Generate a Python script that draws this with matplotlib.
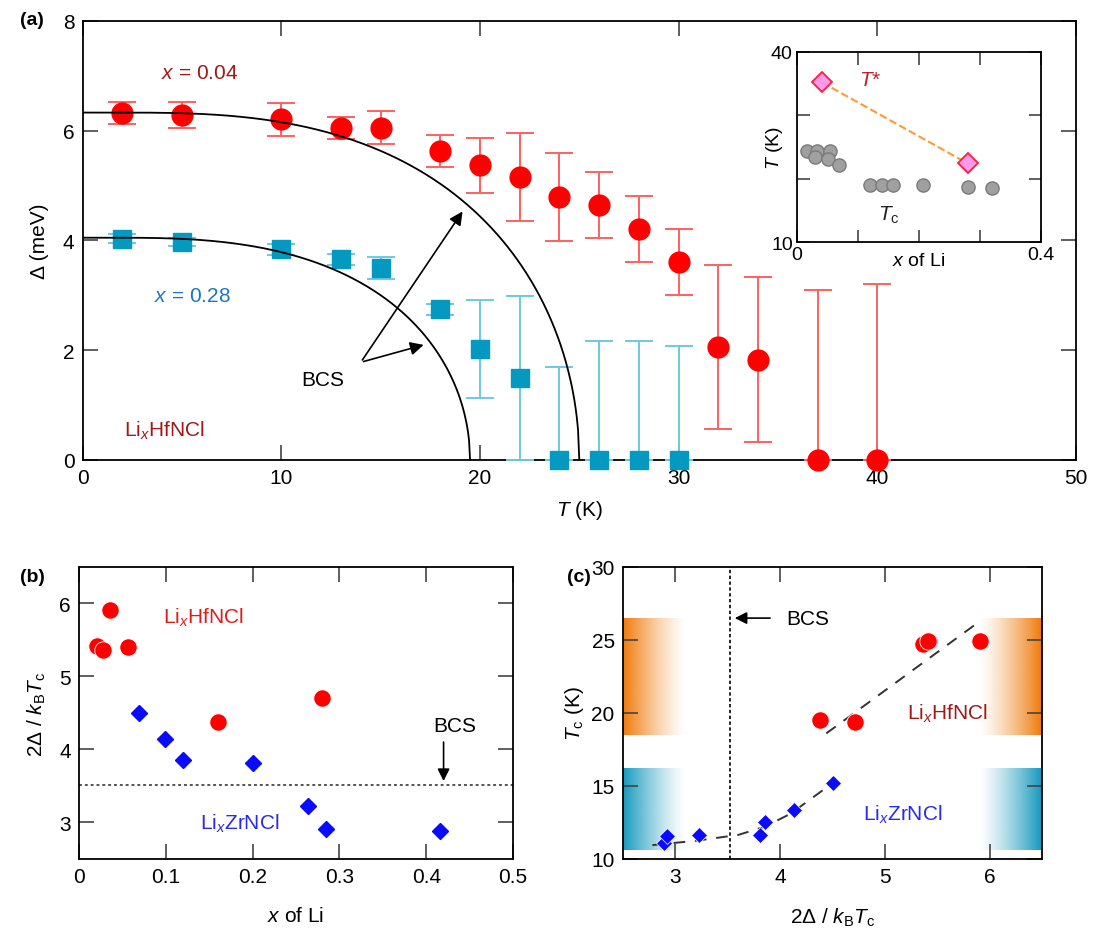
import numpy as np
import matplotlib
matplotlib.use('Agg')
import matplotlib.pyplot as plt

plt.rcParams['font.family'] = ['Liberation Sans', 'DejaVu Sans']
plt.rcParams['mathtext.fontset'] = 'custom'
plt.rcParams['mathtext.rm'] = 'Liberation Sans'
plt.rcParams['mathtext.it'] = 'Liberation Sans:italic'
plt.rcParams['font.size'] = 15

# ---- (a) gap vs temperature ----
T_hf = [2, 5, 10, 13, 15, 18, 20, 22, 24, 26, 28, 30, 32, 34, 37, 40]
D_hf = [6.32, 6.29, 6.21, 6.05, 6.05, 5.63, 5.37, 5.16, 4.79, 4.64, 4.21, 3.61, 2.06, 1.83, 0, 0]
Dlo_hf = [0.2, 0.24, 0.3, 0.2, 0.3, 0.3, 0.5, 0.8, 0.8, 0.6, 0.6, 0.6, 1.5, 1.5, 0, 0]
Dhi_hf = [0.2, 0.24, 0.3, 0.2, 0.3, 0.3, 0.5, 0.8, 0.8, 0.6, 0.6, 0.6, 1.5, 1.5, 3.1, 3.2]

T_zr = [2, 5, 10, 13, 15, 18, 20, 22, 24, 26, 28, 30]
D_zr = [4.03, 3.97, 3.84, 3.66, 3.5, 2.75, 2.02, 1.49, 0, 0, 0, 0]
Dlo_zr = [0.08, 0.08, 0.1, 0.1, 0.2, 0.1, 0.9, 1.49, 0, 0, 0, 0]
Dhi_zr = [0.08, 0.08, 0.1, 0.1, 0.2, 0.1, 0.9, 1.5, 1.69, 2.17, 2.17, 2.08]

# BCS curves (gap at T=0, Tc)
bcs_params = [(6.33, 25.0), (4.05, 19.5)]

# inset: T* and Tc vs x
x_ts = [0.041, 0.28]
T_ts = [35.2, 22.4]
x_tc = [0.016, 0.032, 0.054, 0.03, 0.051, 0.069, 0.12, 0.139, 0.158, 0.207, 0.281, 0.32]
T_tc = [24.4, 24.4, 24.4, 23.5, 23.1, 22.1, 19.0, 19.0, 19.0, 19.0, 18.7, 18.5]

# ---- (b) ratio vs x ----
xb_hf = [0.021, 0.028, 0.036, 0.056, 0.16, 0.28]
rb_hf = [5.42, 5.36, 5.91, 5.41, 4.38, 4.71]
xb_zr = [0.069, 0.099, 0.12, 0.20, 0.264, 0.284, 0.416]
rb_zr = [4.50, 4.14, 3.86, 3.81, 3.22, 2.91, 2.88]
bcs_ratio = 3.52

# ---- (c) Tc vs ratio ----
rc_hf = [5.42, 5.36, 5.91, 5.41, 4.38, 4.71]
tc_hf = [24.9, 24.7, 24.9, 24.9, 19.5, 19.4]
rc_zr = [2.89, 2.92, 3.23, 3.81, 3.86, 4.13, 4.5]
tc_zr = [11.1, 11.6, 11.63, 11.63, 12.5, 13.35, 15.18]
guide_hf_r = [4.44, 5.88]
guide_hf_t = [18.6, 26.15]
guide_zr_r = [2.78, 3.2, 3.6, 3.85, 4.1, 4.5]
guide_zr_t = [10.95, 11.25, 11.65, 12.2, 13.1, 15.2]

RED = '#ff0000'
DKRED = '#a01818'
CYAN = '#0399c0'
BLUE = '#0a0aff'


def style(ax, length=11, size=15):
    ax.tick_params(direction='in', length=length, width=1.2, color='#444444',
                   top=True, right=True, labelsize=size, pad=6)
    for s in ax.spines.values():
        s.set_linewidth(1.3)


fig = plt.figure(figsize=(10.99, 9.53), dpi=100)

# ---------- (a) ----------
ax = fig.add_axes([0.0753, 0.5163, 0.9036, 0.4607])
style(ax)
eb = ax.errorbar(T_hf, D_hf, yerr=[Dlo_hf, Dhi_hf], fmt='o', color=RED, ms=15,
                 ecolor='#ff6060', elinewidth=1.4, capsize=10, capthick=1.4, zorder=3)
eb[0].set_clip_on(False)
eb = ax.errorbar(T_zr, D_zr, yerr=[Dlo_zr, Dhi_zr], fmt='s', color=CYAN, ms=13,
                 ecolor='#6cc9e2', elinewidth=1.4, capsize=10, capthick=1.4, zorder=3)
eb[0].set_clip_on(False)
for d0, tc in bcs_params:
    tt = np.linspace(1e-3, tc, 400)
    dd = d0 * np.tanh(1.74 * np.sqrt(tc / tt - 1))
    ax.plot(np.r_[0, tt], np.r_[d0, dd], color='k', lw=1.3, zorder=4)
ax.text(12.1, 1.47, 'BCS', ha='center', va='center')
for tgt in [(19.2, 4.57), (17.3, 2.11)]:
    ax.annotate('', xy=tgt, xytext=(14.0, 1.78),
                arrowprops=dict(arrowstyle='-|>', color='k', lw=1.2, mutation_scale=20))
ax.text(5.9, 7.06, '$x$ = 0.04', color=DKRED, ha='center', va='center')
ax.text(5.5, 2.99, '$x$ = 0.28', color='#1a78c2', ha='center', va='center')
ax.text(4.1, 0.55, 'Li$_x$HfNCl', color=DKRED, ha='center', va='center')
ax.set_xlim(0, 50)
ax.set_ylim(0, 8)
ax.set_xticks([0, 10, 20, 30, 40, 50])
ax.set_yticks([0, 2, 4, 6, 8])
ax.set_xlabel('$T$ (K)', labelpad=8)
ax.set_ylabel('Δ (meV)', labelpad=10)
fig.text(0.018, 0.979, '(a)', fontsize=14, fontweight='bold', va='center')

# inset
axi = fig.add_axes([0.7252, 0.745, 0.2220, 0.1994])
style(axi, length=9, size=14)
axi.plot(x_ts, T_ts, '--', color='#ff9933', lw=1.5, zorder=2)
axi.plot(x_ts, T_ts, 'D', ms=10, mfc='#ff99e8', mec='#ff1a40', mew=1.3, ls='none', zorder=3)
axi.plot(x_tc, T_tc, 'o', ms=9.5, mfc='#a0a0a0', mec='#7a7a7a', mew=1, ls='none', zorder=3)
axi.set_xlim(0, 0.4)
axi.set_ylim(10, 40)
axi.set_xticks([0, 0.1, 0.2, 0.3, 0.4])
axi.set_xticklabels(['0', '', '', '', '0.4'])
axi.set_yticks([10, 20, 30, 40])
axi.set_yticklabels(['10', '', '', '40'])
axi.tick_params(pad=3)
axi.set_xlabel('$x$ of Li', fontsize=14, labelpad=-8)
axi.set_ylabel('$T$ (K)', fontsize=14, labelpad=-10)
axi.text(0.12, 35.6, '$T$*', color='#c0202a', fontsize=15, ha='center', va='center')
axi.text(0.15, 14.4, '$T_\\mathrm{c}$', color='#222222', fontsize=15, ha='center', va='center')

# ---------- (b) ----------
axb = fig.add_axes([0.0719, 0.0976, 0.3949, 0.3064])
style(axb)
axb.axhline(bcs_ratio, color='#555555', lw=1.4, ls=(0, (1.5, 1.5)), zorder=1)
axb.plot(xb_hf, rb_hf, 'o', color=RED, ms=12.5, mec='white', mew=0.6, ls='none', zorder=3)
axb.plot(xb_zr, rb_zr, 'D', color=BLUE, ms=8, ls='none', zorder=3)
axb.annotate('', xy=(0.42, 3.53), xytext=(0.42, 4.14),
             arrowprops=dict(arrowstyle='-|>', color='k', lw=1.2, mutation_scale=18))
axb.text(0.433, 4.33, 'BCS', ha='center', va='center')
axb.text(0.143, 5.82, 'Li$_x$HfNCl', color='#dd1c1c', ha='center', va='center')
axb.text(0.185, 3.0, 'Li$_x$ZrNCl', color='#2a2aee', ha='center', va='center')
axb.set_xlim(0, 0.5)
axb.set_ylim(2.5, 6.5)
axb.set_xticks([0, 0.1, 0.2, 0.3, 0.4, 0.5])
axb.set_xticklabels(['0', '0.1', '0.2', '0.3', '0.4', '0.5'])
axb.set_yticks([3, 4, 5, 6])
axb.set_xlabel('$x$ of Li', labelpad=14)
axb.set_ylabel('2Δ / $k_\\mathrm{B}T_\\mathrm{c}$', labelpad=8)
fig.text(0.018, 0.394, '(b)', fontsize=14, fontweight='bold', va='center')

# ---------- (c) ----------
axc = fig.add_axes([0.5669, 0.0976, 0.3813, 0.3064])
style(axc)


def band(ax, x0, x1, y0, y1, color, reverse):
    rgb = np.array(matplotlib.colors.to_rgb(color))
    a = np.linspace(1, 0, 256) ** 1.3
    if reverse:
        a = a[::-1]
    img = np.zeros((1, 256, 4))
    img[0, :, :3] = rgb
    img[0, :, 3] = a
    ax.imshow(img, extent=[x0, x1, y0, y1], aspect='auto', zorder=0,
              interpolation='bilinear')


band(axc, 2.5, 3.1, 18.5, 26.5, '#f07a0a', False)
band(axc, 5.9, 6.5, 18.5, 26.5, '#f07a0a', True)
band(axc, 2.5, 3.1, 10.6, 16.2, '#1598bd', False)
band(axc, 5.9, 6.5, 10.6, 16.2, '#1598bd', True)
axc.axvline(bcs_ratio, color='k', lw=1.2, ls=(0, (2, 1.5)), zorder=1)
axc.plot(guide_hf_r, guide_hf_t, color='#333333', lw=1.4, ls=(0, (6, 5)), zorder=2)
axc.plot(guide_zr_r, guide_zr_t, color='#333333', lw=1.4, ls=(0, (6, 5)), zorder=2)
axc.plot(rc_hf, tc_hf, 'o', color=RED, ms=12.5, mec='white', mew=0.6, ls='none', zorder=3)
axc.plot(rc_zr, tc_zr, 'D', color=BLUE, ms=8, mec='white', mew=0.5, ls='none', zorder=3)
axc.annotate('', xy=(3.54, 26.5), xytext=(3.93, 26.5),
             arrowprops=dict(arrowstyle='-|>', color='k', lw=1.2, mutation_scale=18))
axc.text(4.26, 26.5, 'BCS', ha='center', va='center')
axc.text(5.6, 20.0, 'Li$_x$HfNCl', color=DKRED, ha='center', va='center')
axc.text(5.17, 13.1, 'Li$_x$ZrNCl', color='#2a2aee', ha='center', va='center')
axc.set_xlim(2.5, 6.5)
axc.set_ylim(10, 30)
axc.set_xticks([3, 4, 5, 6])
axc.set_yticks([10, 15, 20, 25, 30])
axc.set_xlabel('2Δ / $k_\\mathrm{B}T_\\mathrm{c}$', labelpad=14)
axc.set_ylabel('$T_\\mathrm{c}$ (K)', labelpad=4)
fig.text(0.516, 0.394, '(c)', fontsize=14, fontweight='bold', va='center')

fig.savefig('out.png', dpi=100)
